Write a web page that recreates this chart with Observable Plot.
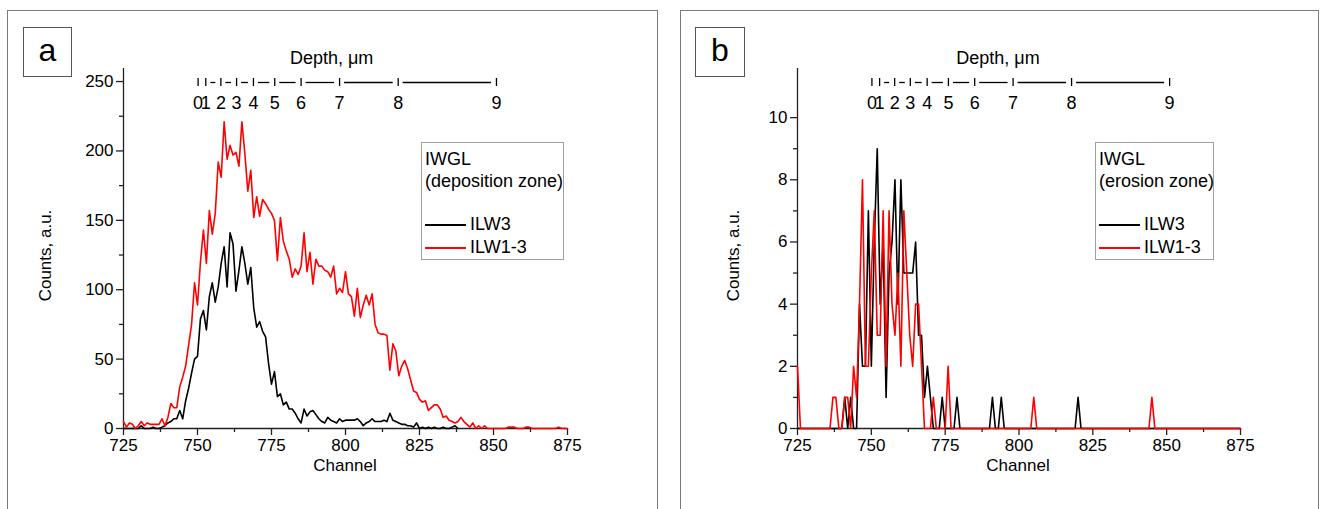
<!DOCTYPE html>
<html>
<head>
<meta charset="utf-8">
<script src="https://cdn.jsdelivr.net/npm/d3@7"></script>
<script src="https://cdn.jsdelivr.net/npm/@observablehq/plot@0.6"></script>
<style>
  body { margin: 0; background: #fff; font-family: "Liberation Sans", Arial, sans-serif; color: #000; }
  #wrap { position: relative; width: 1320px; height: 509px; overflow: hidden; background: #fff; }
  .frame { position: absolute; border: 1px solid #7a7a7a; box-sizing: border-box; }
  .letter { position: absolute; border: 1px solid #555; box-sizing: border-box; font-size: 32px; text-align: center; line-height: 44px; }
  .legend { position: absolute; border: 1px solid #a0a0a0; box-sizing: border-box; font-size: 18px; background: #fff; }
  .legend div { position: absolute; white-space: nowrap; line-height: 20px; }
  .swatch { height: 0; border-top: 2px solid; }
  .title { position: absolute; font-size: 17px; white-space: nowrap; text-align: center; line-height: 17px; }
  .plotbox { position: absolute; top: 0; }
</style>
</head>
<body>
<div id="wrap">
  <div class="frame" style="left:7px;top:10px;width:651px;height:520px"></div>
  <div class="frame" style="left:680px;top:10px;width:639px;height:520px"></div>
  <div class="plotbox" id="pa" style="left:0px"></div>
  <div class="plotbox" id="pb" style="left:660px"></div>
</div>
<script>
// ---- data ----
const startChannel = 725;
const seriesNames = ["ILW3", "ILW1-3"];
const seriesColors = ["#000000", "#ff0000"];
const zoneA = "(deposition zone)";
const zoneB = "(erosion zone)";
const sampleName = "IWGL";

// Panel a, ILW3 (black), channels 725..838
const blackA = [
  0,0,0,0,0,0,2,0,0,0,1,0,0,1,2,4,
  5,7,7,13,7,20,29,40,50,52,
  79,85,71,95,105,91,102,119,131,102,
  141,133,99,114,131,119,104,116,87,73,
  77,70,66,47,32,41,23,25,17,19,
  14,14,11,7,4,14,9,12,13,10,
  7,5,4,8,6,5,4,7,5,6,
  6,6,6,7,5,2,4,5,7,5,
  5,5,6,5,11,6,5,4,3,3,
  2,2,1,4,0,1,0,1,0,1,
  0,0,1,0,0,1,2,0
];
// Panel a, ILW1-3 (red), channels 725..875
const redA = [
  5,1,4,3,0,2,5,2,4,3,3,3,3,7,2,8,
  18,15,15,30,37,45,60,75,105,89,
  120,143,119,157,140,155,192,181,221,194,
  204,197,199,189,221,198,171,186,152,167,
  153,165,162,158,155,150,121,152,135,128,
  122,109,115,111,117,141,113,127,104,122,
  117,117,114,113,109,117,97,101,98,113,
  97,95,81,101,80,89,96,89,97,75,
  69,68,68,67,42,61,56,38,45,49,
  43,35,27,26,21,19,20,13,15,17,
  17,14,8,9,6,5,4,5,8,5,
  3,1,4,0,2,0,2,0,0,0,
  0,0,0,0,1,1,1,0,0,0,
  1,1,0,0,0,0,0,0,0,0,
  0,1,0,0,0
];
// Panel b, ILW3 (black), channels 725..875
const blackB = [
  0,0,0,0,0,0,0,0,0,0,0,0,0,0,0,0,
  1,0,1,0,0,4,2,2,7,2,
  6,9,4,6,1,5,6,8,4,8,
  5,5,5,5,6,3,3,1,2,1,
  0,0,0,1,0,0,0,0,1,0,
  0,0,0,0,0,0,0,0,0,0,
  1,0,0,1,0,0,0,0,0,0,
  0,0,0,0,0,0,0,0,0,0,
  0,0,0,0,0,0,0,0,0,1,
  0,0,0,0,0,0,0,0,0,0,
  0,0,0,0,0,0,0,0,0,0,
  0,0,0,0,0,0,0,0,0,0,
  0,0,0,0,0,0,0,0,0,0,
  0,0,0,0,0,0,0,0,0,0,
  0,0,0,0,0
];
// Panel b, ILW1-3 (red), channels 725..875
const redB = [
  2,0,0,0,0,0,0,0,0,0,0,0,1,1,0,0,
  1,1,0,2,1,4,8,2,2,5,
  7,3,3,7,2,7,4,3,5,2,
  7,5,3,2,4,4,2,0,0,0,
  1,0,0,0,0,2,0,0,0,0,
  0,0,0,0,0,0,0,0,0,0,
  0,0,0,0,0,0,0,0,0,0,
  0,0,0,0,1,0,0,0,0,0,
  0,0,0,0,0,0,0,0,0,0,
  0,0,0,0,0,0,0,0,0,0,
  0,0,0,0,0,0,0,0,0,0,
  0,0,0,0,1,0,0,0,0,0,
  0,0,0,0,0,0,0,0,0,0,
  0,0,0,0,0,0,0,0,0,0,
  0,0,0,0,0
];

const xTicks = [725, 750, 775, 800, 825, 850, 875];
const xMinorTicks = [737.5, 762.5, 787.5, 812.5, 837.5, 862.5];
const yTicksA = [0, 50, 100, 150, 200, 250];
const yMinorA = [25, 75, 125, 175, 225];
const yTicksB = [0, 2, 4, 6, 8, 10];
const yMinorB = [1, 3, 5, 7, 9];
const depthLabels = ["0","1","2","3","4","5","6","7","8","9"];
const depthChannels = [750.2, 752.8, 757.9, 763.2, 768.9, 776.1, 785.0, 798.0, 817.8, 851.0];
const depthTitle = "Depth, \u03bcm";
const xTitle = "Channel";
const yTitle = "Counts, a.u.";

// ---- build ----
const toRows = (arr) => arr.map((v, i) => ({ch: startChannel + i, v}));
const depthSegs = depthChannels.slice(1, -1).map((d, i) => ({x1: d, x2: depthChannels[i + 2]}));

function panel({black, red, yMax, yTicks, yMinor, marginLeft, marginRight, depthTitleX}) {
  const frameH = 509 - 68 - 81;
  return Plot.plot({
    width: 660, height: 509,
    marginLeft, marginRight, marginTop: 68, marginBottom: 81,
    x: {domain: [725, 875]},
    y: {domain: [0, yMax]},
    style: {fontFamily: "'Liberation Sans', Arial, sans-serif", fontSize: "17px", color: "#000", background: "transparent", overflow: "visible"},
    marks: [
      Plot.axisX({ticks: xTicks, tickSize: 7, tickPadding: 3, fontSize: 17, label: null, stroke: "#222", strokeWidth: 1.3}),
      Plot.axisX(xMinorTicks, {tickSize: 4, tickFormat: () => "", label: null, stroke: "#222", strokeWidth: 1.3}),
      Plot.axisY({ticks: yTicks, tickSize: 7, tickPadding: 3, fontSize: 17, label: null, stroke: "#222", strokeWidth: 1.3}),
      Plot.axisY(yMinor, {tickSize: 4, tickFormat: () => "", label: null, stroke: "#222", strokeWidth: 1.3}),
      Plot.ruleY([0], {stroke: "#222", strokeWidth: 1.3}),
      Plot.ruleX([725], {stroke: "#222", strokeWidth: 1.3}),
      // depth scale
      Plot.ruleY(depthSegs, {x1: "x1", x2: "x2", y: () => yMax, dy: 14, insetLeft: 5, insetRight: 5, stroke: "#000", strokeWidth: 1.3}),
      Plot.ruleX(depthChannels, {x: d => d, insetTop: 10, insetBottom: frameH - 18, stroke: "#000", strokeWidth: 1.3}),
      Plot.text(depthChannels, {x: d => d, text: (d, i) => depthLabels[i], frameAnchor: "top", dy: 28, fontSize: 18}),
      Plot.text([depthTitleX], {x: d => d, text: () => depthTitle, frameAnchor: "top", dy: -17, fontSize: 18}),
      // data
      Plot.line(toRows(black), {x: "ch", y: "v", stroke: seriesColors[0], strokeWidth: 1.6}),
      Plot.line(toRows(red), {x: "ch", y: "v", stroke: seriesColors[1], strokeWidth: 1.6})
    ]
  });
}

document.getElementById("pa").appendChild(panel({
  black: blackA, red: redA, yMax: 259.4, yTicks: yTicksA, yMinor: yMinorA,
  marginLeft: 123, marginRight: 93, depthTitleX: 795.3
}));
document.getElementById("pb").appendChild(panel({
  black: blackB, red: redB, yMax: 11.58, yTicks: yTicksB, yMinor: yMinorB,
  marginLeft: 137, marginRight: 80, depthTitleX: 792.9
}));

// overlays: letters, axis titles, legends
const wrap = document.getElementById("wrap");
function add(html) { wrap.insertAdjacentHTML("beforeend", html); }
add(`<div class="letter" style="left:23px;top:27px;width:49px;height:50px">a</div>`);
add(`<div class="letter" style="left:695px;top:27px;width:50px;height:50px">b</div>`);
add(`<div class="title" style="left:245px;top:457px;width:200px">${xTitle}</div>`);
add(`<div class="title" style="left:918px;top:457px;width:200px">${xTitle}</div>`);
add(`<div class="title" style="left:-55px;top:247px;width:200px;transform:rotate(-90deg)">${yTitle}</div>`);
add(`<div class="title" style="left:633px;top:247px;width:200px;transform:rotate(-90deg)">${yTitle}</div>`);

function legend(left, width, zone) {
  return `<div class="legend" style="left:${left}px;top:142px;width:${width}px;height:118px">
    <div style="left:3px;top:6px">${sampleName}</div>
    <div style="left:3px;top:28px">${zone}</div>
    <div class="swatch" style="left:3px;top:81px;width:41px;border-color:${seriesColors[0]}"></div>
    <div style="left:48px;top:71px">${seriesNames[0]}</div>
    <div class="swatch" style="left:3px;top:104px;width:41px;border-color:${seriesColors[1]}"></div>
    <div style="left:48px;top:94px">${seriesNames[1]}</div>
  </div>`;
}
add(legend(421, 143, zoneA));
add(legend(1095, 119, zoneB));
</script>
</body>
</html>
